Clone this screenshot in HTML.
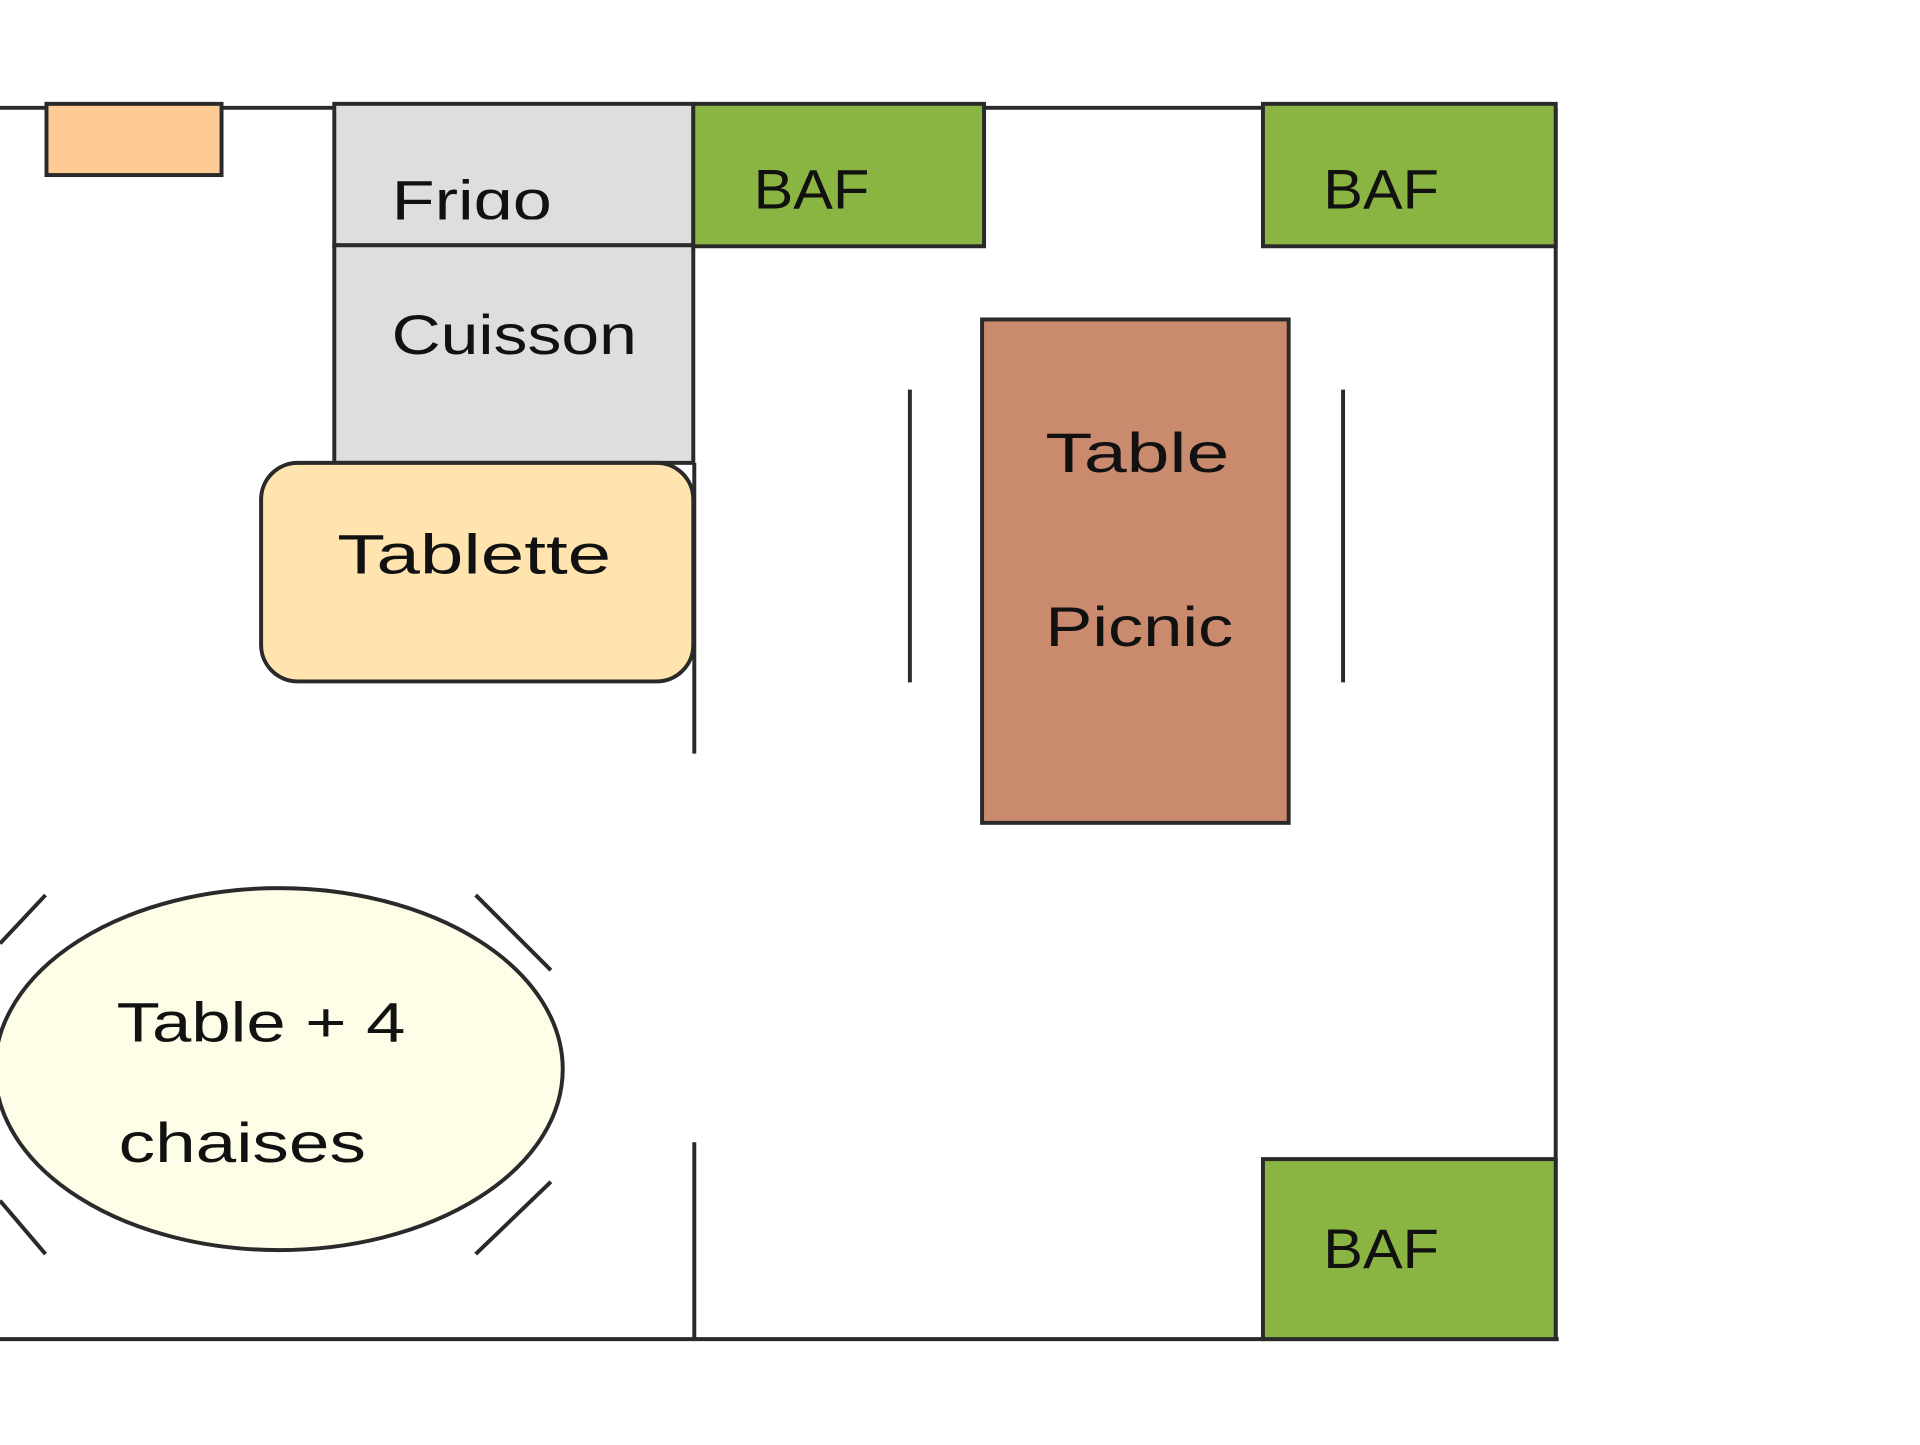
<!DOCTYPE html>
<html><head><style>html,body{margin:0;padding:0;background:#fff}</style></head>
<body>
<svg width="1920" height="1440" viewBox="0 0 1920 1440" xmlns="http://www.w3.org/2000/svg" font-family="'Liberation Sans', sans-serif" font-size="56" fill="#111">
<defs><clipPath id="fc"><rect x="338" y="105" width="363" height="117"/></clipPath></defs>
<g transform="scale(0.989)">
<g stroke="#2a2a2a" stroke-width="4" fill="none">
<line x1="0" y1="109" x2="1573" y2="109"/>
<line x1="1573" y1="109" x2="1573" y2="1354"/>
<line x1="0" y1="1354" x2="1576" y2="1354"/>
<line x1="702" y1="468" x2="702" y2="762"/>
<line x1="702" y1="1155" x2="702" y2="1354"/>
<line x1="920" y1="394" x2="920" y2="690"/>
<line x1="1358" y1="394" x2="1358" y2="690"/>
<line x1="0" y1="954" x2="46" y2="905"/>
<line x1="481" y1="905" x2="557" y2="981"/>
<line x1="481" y1="1268" x2="557" y2="1195"/>
<line x1="0" y1="1214" x2="46" y2="1268"/>
</g>
<g stroke="#2a2a2a" stroke-width="4">
<rect x="47" y="105" width="177" height="72" fill="#fecb94"/>
<rect x="338" y="105" width="363" height="143" fill="#dedede"/>
<rect x="338" y="248" width="363" height="220" fill="#dedede"/>
<rect x="701" y="105" width="294" height="144" fill="#8ab543"/>
<rect x="1277" y="105" width="296" height="144" fill="#8ab543"/>
<rect x="1277" y="1172" width="296" height="182" fill="#8ab543"/>
<rect x="264" y="468" width="437" height="221" rx="37" fill="#ffe4b0"/>
<rect x="993" y="323" width="310" height="509" fill="#c98a6e"/>
<ellipse cx="282" cy="1081" rx="287" ry="183" fill="#fefde8"/>
</g>
<g stroke="none" lengthAdjust="spacingAndGlyphs">
<text x="396" y="222" clip-path="url(#fc)" textLength="162" lengthAdjust="spacingAndGlyphs">Frigo</text>
<text x="396" y="358" textLength="248" lengthAdjust="spacingAndGlyphs">Cuisson</text>
<text x="762" y="211" textLength="117" lengthAdjust="spacingAndGlyphs">BAF</text>
<text x="1338" y="211" textLength="117" lengthAdjust="spacingAndGlyphs">BAF</text>
<text x="1338" y="1282" textLength="117" lengthAdjust="spacingAndGlyphs">BAF</text>
<text x="341" y="580" textLength="277" lengthAdjust="spacingAndGlyphs">Tablette</text>
<text x="1057" y="477" textLength="186" lengthAdjust="spacingAndGlyphs">Table</text>
<text x="1057" y="653" textLength="190" lengthAdjust="spacingAndGlyphs">Picnic</text>
<text x="118" y="1053" textLength="292" lengthAdjust="spacingAndGlyphs">Table + 4</text>
<text x="120" y="1175" textLength="250" lengthAdjust="spacingAndGlyphs">chaises</text>
</g>
</g>
</svg>
</body></html>
